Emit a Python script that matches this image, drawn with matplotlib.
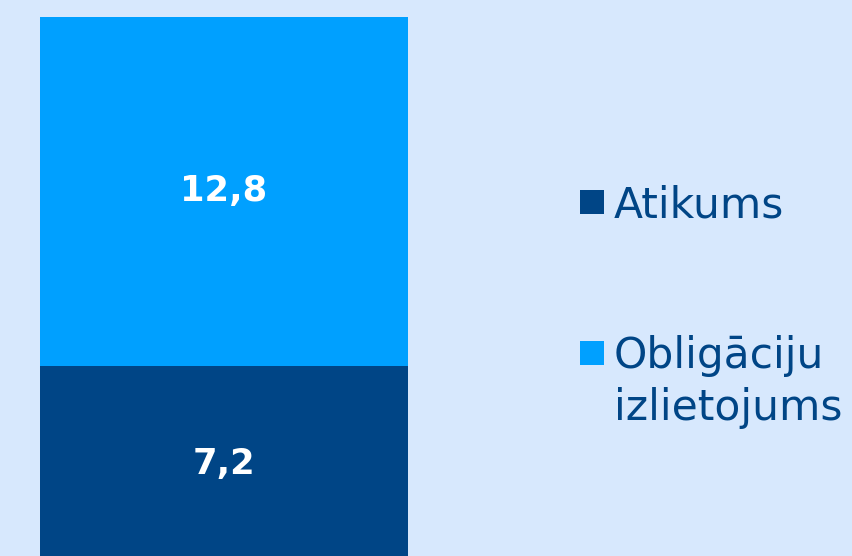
import matplotlib.pyplot as plt
from matplotlib.patches import Rectangle

# data
categories = ["Atikums", "Obligāciju\nizlietojums"]
values = [7.2, 12.8]
value_labels = ["7,2", "12,8"]
colors = ["#004586", "#00A0FF"]
BG = "#D7E8FD"

W, H = 853, 556
fig = plt.figure(figsize=(W / 100, H / 100), dpi=100, facecolor=BG)
ax = fig.add_axes([0, 0, 1, 1])
ax.set_facecolor(BG)

bottom = 0
for v, lab, c in zip(values, value_labels, colors):
    ax.bar(0, v, width=1, bottom=bottom, color=c, linewidth=0)
    ax.text(0, bottom + v / 2, lab, ha="center", va="center", color="white",
            fontsize=25.5, fontweight="bold", family="DejaVu Sans")
    bottom += v

# y=20 at 17px from top, y=0 at 562px from top
ppu = (562 - 17) / sum(values)
ax.set_ylim((562 - H) / ppu, sum(values) + 17 / ppu)
ax.set_xlim(-0.5 - 40 / 368, 0.5 + (W - 408) / 368)
ax.axis("off")

# legend, drawn by hand (square aligned with first line)
legend_tops = [190, 341]
baselines = [217, 420]  # baseline of last line
for top, base, lab, c in zip(legend_tops, baselines, categories, colors):
    fig.add_artist(Rectangle((580 / W, 1 - (top + 24) / H), 24 / W, 24 / H,
                             transform=fig.transFigure, color=c, linewidth=0))
    fig.text(614 / W, 1 - base / H, lab, ha="left", va="baseline",
             fontsize=30.5, color="#004586", linespacing=1.3)

fig.savefig("out.png", dpi=100, facecolor=BG)
